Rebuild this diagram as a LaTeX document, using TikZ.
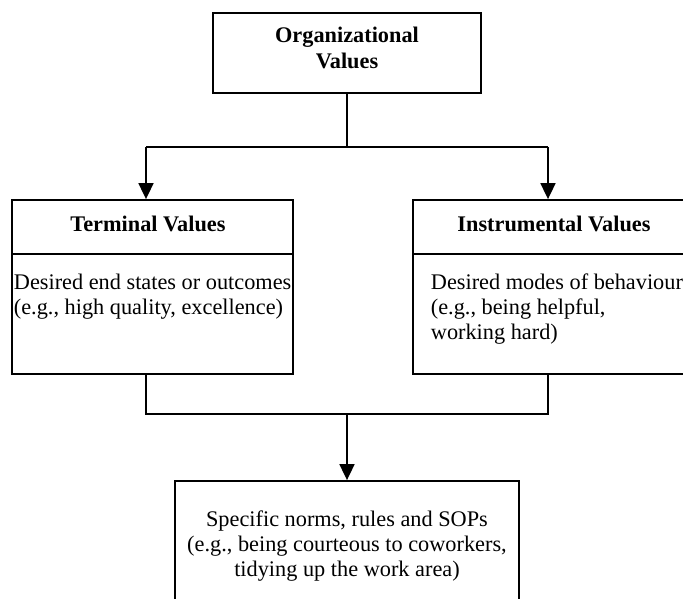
\documentclass[tikz,border=0pt]{standalone}
\usepackage{fontspec}
\setmainfont{Liberation Serif}
\usetikzlibrary{arrows.meta}

\begin{document}
\begin{tikzpicture}[x=1pt,y=-1pt,
  line width=1.8pt,
  box/.style={draw=black,line width=1.8pt,rectangle,inner sep=0pt},
  lbl/.style={inner sep=0pt,font=\fontsize{22.3}{26}\selectfont},
  head/.style={lbl,font=\fontsize{22.3}{26}\selectfont\bfseries},
  conn/.style={draw=black,line width=1.8pt},
  arr/.style={conn,-{Triangle[width=15pt,length=16pt]}}]

  \useasboundingbox (0,0) rectangle (683,599);
  \clip (0,0) rectangle (683,599);

  % boxes
  \node[box,minimum width=268pt,minimum height=80pt] (org) at (347,53) {};
  \node[box,minimum width=281pt,minimum height=174pt] (term) at (152.5,287) {};
  \node[box,minimum width=282pt,minimum height=174pt] (inst) at (554,287) {};
  \node[box,minimum width=344pt,minimum height=122pt] (spec) at (347,542) {};

  % header separators
  \coordinate (sep) at (0,254);
  \draw (term.west |- sep) -- (term.east |- sep);
  \draw (inst.west |- sep) -- (inst.east |- sep);

  % texts
  \node[head,anchor=base] (orgA) at (347,43) {Organizational};
  \node[head,anchor=base] (orgB) at (347,69) {Values};
  \node[head,anchor=base] (termH) at (148,231) {Terminal Values};
  \node[head,anchor=base] (instH) at (554,231) {Instrumental Values};

  \node[lbl,anchor=base west] (termA) at (13,289) {Desired end states or outcomes};
  \node[lbl,anchor=base west] (termB) at (13,314) {(e.g., high quality, excellence)};

  \node[lbl,anchor=base west] (instA) at (430,289) {Desired modes of behaviour};
  \node[lbl,anchor=base west] (instB) at (430,314) {(e.g., being helpful,};
  \node[lbl,anchor=base west] (instC) at (430,339) {working hard)};

  \node[lbl,anchor=base] (specA) at (347,526) {Specific norms, rules and SOPs};
  \node[lbl,anchor=base] (specB) at (347,551) {(e.g., being courteous to coworkers,};
  \node[lbl,anchor=base] (specC) at (347,576) {tidying up the work area)};

  % connector junctions
  \coordinate (tl) at (146,147);
  \coordinate (tr) at (548,147);
  \coordinate (bl) at (146,414);
  \coordinate (br) at (548,414);
  \coordinate (bm) at (347,414);

  % top split
  \draw[conn] (org.south) -- (org.south |- tl);
  \draw[conn] (tl) -- (tr);
  \draw[arr] (tl) -- (tl |- term.north);
  \draw[arr] (tr) -- (tr |- inst.north);

  % bottom merge
  \draw[conn] (term.south -| bl) -- (bl) -- (br) -- (inst.south -| br);
  \draw[arr] (bm) -- (bm |- spec.north);
\end{tikzpicture}
\end{document}
